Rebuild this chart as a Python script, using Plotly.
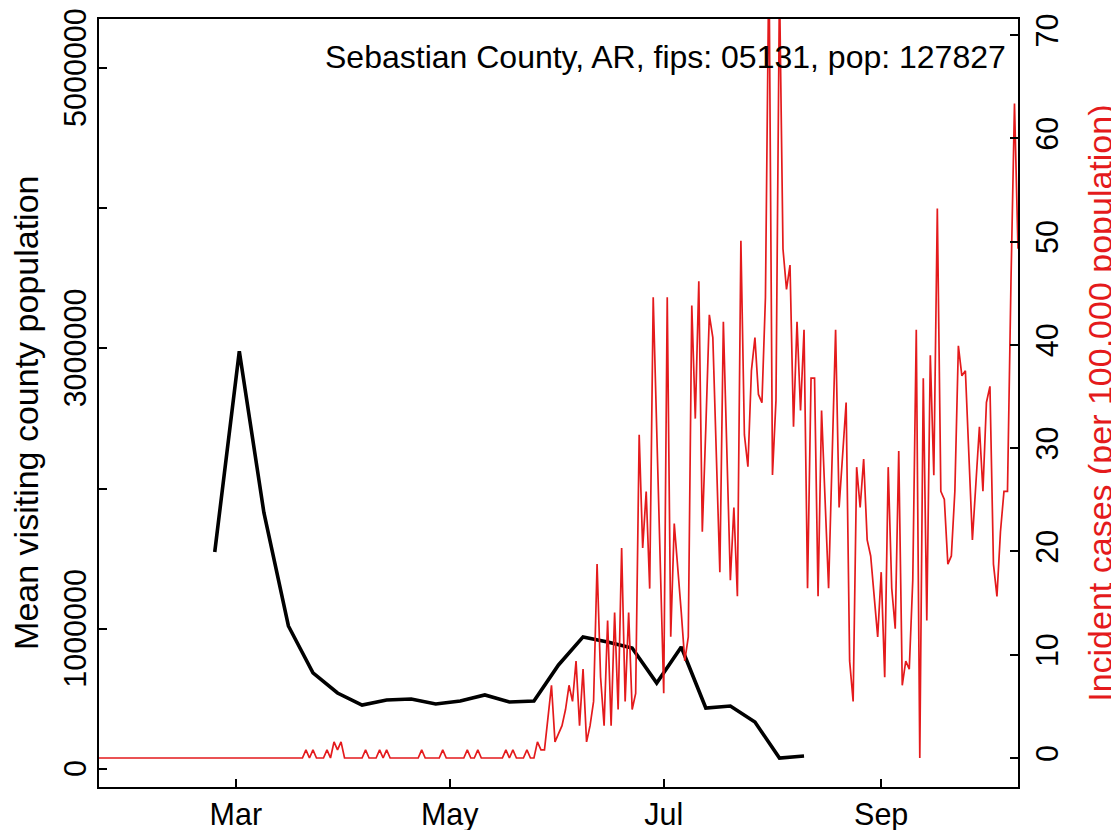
import pandas as pd
import plotly.graph_objects as go

# ---------------- data ----------------
# weekly mean visiting county population (left axis)
visit_start = "2020-02-24"
visit_pop = [1548000, 2980000, 1830000, 1020000, 685000, 542000, 456000, 492000,
             499000, 464000, 485000, 528000, 478000, 485000, 742000, 942000,
             906000, 863000, 613000, 870000, 435000, 449000, 335000, 78000, 93000]

# daily incident cases per 100,000 population (right axis), starting 2020-01-22
case_start = "2020-01-22"
cases_early = [0] * 59 + [
    0.78, 0, 0.78, 0, 0, 0, 0.78, 0, 1.56, 0.78, 1.56, 0, 0, 0, 0, 0, 0,
    0.78, 0, 0, 0, 0.78, 0, 0.78, 0, 0, 0, 0, 0, 0, 0, 0, 0, 0.78, 0, 0, 0,
    0, 0, 0.78, 0, 0, 0, 0, 0, 0, 0.78, 0, 0, 0.78, 0, 0, 0, 0, 0, 0, 0,
    0.78, 0, 0.78, 0, 0, 0, 0.78, 0, 0, 1.56, 0.78, 0.78]
cases_late = [
    3.9, 7.04, 1.56, 2.35, 3.13, 4.69, 7.04, 5.48, 9.39, 3.13, 8.6, 1.56,
    3.13, 5.48, 18.77, 7.82, 3.13, 13.3, 3.13, 14.08, 4.69, 20.34, 5.48,
    14.08, 4.69, 6.26, 31.3, 20.34, 25.8, 16.4, 44.6, 31.8, 19.0, 6.26,
    44.6, 11.73, 22.69, 18.8, 14.1, 9.39, 11.73, 43.8, 32.86, 46.15, 21.9,
    32.0, 42.9, 40.7, 29.7, 17.99, 42.24, 29.7, 17.21, 24.25, 15.65, 50.07,
    31.3, 28.2, 37.5, 40.7, 35.2, 34.4, 44.6, 78.0, 27.4, 34.6, 75.0, 49.28,
    45.37, 47.72, 32.07, 42.24, 33.64, 41.46, 16.43, 36.77, 36.77, 15.65,
    33.64, 25.0, 16.43, 29.0, 41.46, 24.25, 29.0, 34.42, 9.4, 5.48, 28.16,
    24.25, 28.95, 21.12, 19.56, 15.65, 11.73, 17.99, 7.82, 28.16, 16.43,
    12.51, 29.73, 7.04, 9.39, 8.6, 17.21, 41.46, 0, 36.77, 13.3, 39.0,
    27.38, 53.2, 25.82, 25.03, 18.77, 19.56, 25.82, 39.9, 37.0, 37.5, 29.0,
    21.12, 26.6, 32.07, 25.82, 34.42, 35.98, 18.77, 15.65, 21.9, 25.82,
    25.82, 46.15, 63.37, 49.3]
cases = cases_early + cases_late

x_tick_dates = ["2020-03-01", "2020-05-01", "2020-07-01", "2020-09-01"]
x_tick_text = ["Mar", "May", "Jul", "Sep"]
left_ticks = [0, 1000000, 2000000, 3000000, 4000000, 5000000]
left_label_vals = [0, 1000000, 3000000, 5000000]
left_label_text = ["0", "1000000", "3000000", "5000000"]
right_ticks = [0, 10, 20, 30, 40, 50, 60, 70]

title_text = "Sebastian County, AR, fips: 05131, pop: 127827"
left_title = "Mean visiting county population"
right_title = "Incident cases (per 100,000 population)"

# ---------------- figure ----------------
visit_dates = pd.date_range(visit_start, periods=len(visit_pop), freq="7D")
case_dates = pd.date_range(case_start, periods=len(cases), freq="D")

RED = "#E41A1C"
FONT = "Liberation Sans, Arial, sans-serif"
FS_TICK = 30.5
FS_MAIN = 32
FS_TITLE = 34

fig = go.Figure()
fig.add_trace(go.Scatter(x=case_dates, y=cases, mode="lines",
                         line=dict(color=RED, width=1.7), yaxis="y2",
                         showlegend=False, hoverinfo="skip"))
fig.add_trace(go.Scatter(x=visit_dates, y=visit_pop, mode="lines",
                         line=dict(color="black", width=3.6), yaxis="y",
                         showlegend=False, hoverinfo="skip"))

axis_common = dict(showgrid=False, zeroline=False, showline=True,
                   linecolor="black", linewidth=1.5, ticks="inside",
                   ticklen=8, tickwidth=1.5, tickcolor="black",
                   automargin=False,
                   tickfont=dict(family=FONT, size=FS_TICK, color="black"))

annotations = [
    dict(text=title_text, x=0.989, y=0.951, xref="paper", yref="paper",
         xanchor="right", yanchor="middle", showarrow=False,
         font=dict(family=FONT, size=FS_MAIN, color="black")),
    dict(text=left_title, x=-0.0795, y=0.487, xref="paper", yref="paper",
         xanchor="center", yanchor="middle", textangle=-90,
         showarrow=False,
         font=dict(family=FONT, size=FS_TITLE, color="black")),
    dict(text=right_title, x=1.089, y=0.5, xref="paper", yref="paper",
         xanchor="center", yanchor="middle", textangle=-90,
         showarrow=False,
         font=dict(family=FONT, size=FS_TITLE, color=RED)),
]
# left tick labels (rotated, R style: some labels skipped)
for v, t in zip(left_label_vals, left_label_text):
    annotations.append(dict(text=t, x=-0.0261, y=v, xref="paper", yref="y",
                            xanchor="center", yanchor="middle",
                            textangle=-90, showarrow=False,
                            font=dict(family=FONT, size=FS_TICK,
                                      color="black")))

# the page body adds an 8 px offset at left/top, so the figure is 8 px smaller
fig.update_layout(
    width=1111, height=822,
    margin=dict(l=91, r=101, t=11, b=43),
    paper_bgcolor="white", plot_bgcolor="white",
    xaxis=dict(type="date", range=["2020-01-22", "2020-10-10"],
               tickvals=x_tick_dates, ticktext=x_tick_text,
               mirror=True, **axis_common),
    yaxis=dict(range=[-128400, 5349000], tickvals=left_ticks,
               showticklabels=False, mirror=True, **axis_common),
    yaxis2=dict(range=[-2.81, 71.55], tickvals=right_ticks,
                tickangle=-90, overlaying="y", side="right",
                ticklabelstandoff=2, **axis_common),
    annotations=annotations,
)

fig.write_html("out.html")
